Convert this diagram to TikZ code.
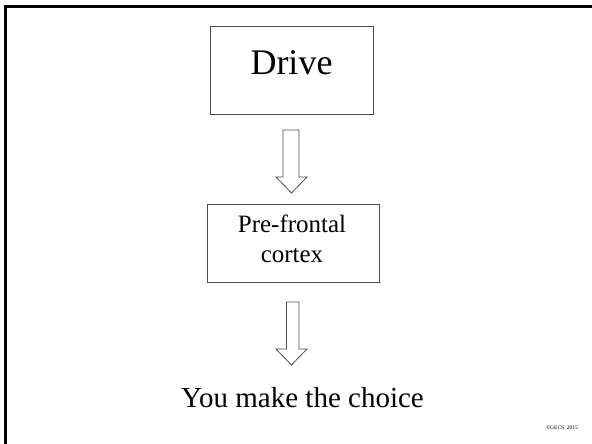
\documentclass[tikz,border=0pt]{standalone}
\usepackage{fontspec}
\setmainfont{Liberation Serif}
\tikzset{
  box/.style={draw=black!70, line width=0.8pt, inner sep=0pt},
  blockarrow/.style={draw=black!70, line width=0.8pt, fill=white, line join=miter},
  frameline/.style={line width=2.6pt, black},
}
\begin{document}
\begin{tikzpicture}[x=1pt, y=-1pt]
  \useasboundingbox (0,0) rectangle (592,444);
  % slide frame: top and left rules
  \coordinate (frameTL) at (5.5,6.5);
  \coordinate (frameTR) at (592,6.5);
  \coordinate (frameBL) at (5.5,444);
  \draw[frameline] (frameTR) -- (frameTL) -- (frameBL);

  % Drive box
  \node[box, minimum width=163pt, minimum height=88pt] (drive) at (291.5,70) {};
  \node[anchor=base, font=\fontsize{36}{43}\selectfont] (drivelbl) at (291.5,75) {Drive};

  % Pre-frontal cortex box
  \node[box, minimum width=172pt, minimum height=78pt] (pfc) at (293,243) {};
  \node[anchor=base, font=\fontsize{25}{30}\selectfont] (pfclbl1) at (292,232) {Pre-frontal};
  \node[anchor=base, font=\fontsize{25}{30}\selectfont] (pfclbl2) at (292,262) {cortex};

  % hollow block arrows (start at top-left corner of the shaft)
  \coordinate (arrowA) at (283,130);
  \draw[blockarrow] (arrowA) -- ++(16,0) -- ++(0,47) -- ++(8,0)
    -- ++(-15.5,16) -- ++(-15.5,-16) -- ++(7,0) -- cycle;
  \coordinate (arrowB) at (286.5,302);
  \draw[blockarrow] (arrowB) -- ++(12.5,0) -- ++(0,47) -- ++(8,0)
    -- ++(-15.5,16) -- ++(-15.5,-16) -- ++(10.5,0) -- cycle;

  % outcome
  \node[anchor=base, font=\fontsize{29}{35}\selectfont] (choice) at (302.5,407) {You make the choice};

  % copyright note
  \node[anchor=base, font=\fontsize{5.5}{6}\selectfont] (copy) at (562,429) {©GECS\ \ 2015};
\end{tikzpicture}
\end{document}
